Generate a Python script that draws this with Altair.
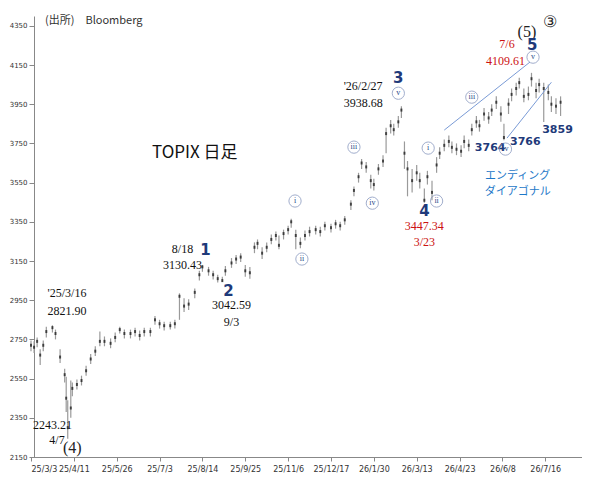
import altair as alt
import pandas as pd

day = [0,2,4,6,8,10,14,16,19,22,23,24,26,27,30,33,36,39,42,45,48,52,55,58,61,65,68,71,74,78,81,84,87,91,94,97,100,103,107,110,112,116,119,122,125,127,131,134,137,140,143,146,148,151,154,157,160,162,165,168,170,173,176,179,182,186,189,192,196,199,202,205,209,211,214,216,219,222,224,227,230,232,235,237,240,242,244,246,249,252,254,257,259,262,265,267,270,273,275,278,281,283,286,288,291,293,296,299,301,304,307,309,312,314,317,319,322,325,327,330,332,335,338,340,343,346]
close = [2720,2710,2740,2670,2720,2790,2810,2780,2660,2570,2450,2300,2400,2500,2520,2540,2590,2650,2690,2740,2740,2730,2760,2800,2780,2780,2790,2770,2790,2790,2850,2830,2820,2820,2830,2970,2920,2930,2990,3080,3120,3100,3080,3060,3050,3100,3140,3160,3170,3100,3090,3220,3240,3190,3220,3260,3280,3230,3290,3310,3350,3280,3240,3280,3300,3310,3300,3330,3320,3340,3330,3360,3440,3510,3580,3650,3630,3560,3540,3620,3660,3800,3840,3820,3860,3920,3700,3620,3560,3600,3560,3460,3580,3500,3640,3700,3740,3760,3730,3720,3710,3760,3740,3820,3860,3840,3900,3880,3920,3960,3900,3780,3950,4000,4030,4060,3990,4000,4080,4020,4050,4030,4010,3950,3940,3960]
high = [2745,2740,2760,2700,2745,2815,2822,2800,2700,2600,2560,2440,2540,2530,2545,2565,2615,2675,2715,2790,2765,2755,2785,2815,2800,2800,2810,2795,2810,2810,2870,2850,2840,2840,2850,2985,2960,2955,3010,3100,3130,3120,3100,3080,3070,3125,3165,3180,3190,3130,3120,3245,3260,3220,3245,3285,3300,3280,3310,3330,3365,3310,3270,3305,3325,3330,3325,3350,3340,3360,3350,3380,3460,3530,3600,3670,3655,3590,3570,3645,3690,3830,3870,3850,3890,3939,3760,3660,3620,3640,3600,3520,3610,3560,3680,3730,3770,3790,3760,3750,3740,3790,3770,3850,3890,3870,3930,3910,3950,3990,3940,3850,3980,4030,4060,4085,4030,4040,4110,4060,4080,4060,4050,3990,3980,3990]
low = [2690,2680,2710,2620,2690,2760,2785,2750,2630,2530,2380,2243,2350,2460,2495,2515,2565,2625,2665,2715,2715,2705,2735,2780,2755,2755,2765,2745,2765,2765,2825,2805,2795,2800,2805,2850,2890,2900,2960,3050,3095,3075,3055,3040,3043,3075,3115,3135,3145,3070,3060,3190,3210,3160,3195,3235,3255,3210,3260,3285,3320,3210,3215,3255,3275,3285,3275,3305,3295,3315,3305,3335,3410,3480,3550,3620,3600,3520,3510,3590,3630,3700,3800,3790,3830,3880,3620,3480,3500,3560,3520,3447,3540,3460,3600,3670,3710,3730,3700,3690,3680,3725,3710,3790,3830,3810,3865,3850,3890,3925,3860,3766,3900,3965,3995,4030,3960,3970,4040,3980,4010,3859,3970,3910,3900,3890]

tick_days = list(range(0, 337, 28))
tick_labels = ['25/3/3','25/4/11','25/5/26','25/7/3','25/8/14','25/9/25','25/11/6','25/12/17','26/1/30','26/3/13','26/4/23','26/6/8','26/7/16']

df = pd.DataFrame({'day': day, 'close': close, 'high': high, 'low': low})

lab_expr = "[" + ",".join("'%s'" % t for t in tick_labels) + "][round(datum.value/28)]"
X = alt.X('day:Q', scale=alt.Scale(domain=[0, 360], nice=False, zero=False),
          axis=alt.Axis(values=tick_days, labelExpr=lab_expr, title=None, grid=False,
                        labelFont='DejaVu Sans', labelFontSize=8, labelColor='#333',
                        domainColor='#888', tickColor='#888', tickSize=4, labelPadding=4))
Y = alt.Y('low:Q', scale=alt.Scale(domain=[2150, 4400], nice=False, zero=False),
          axis=alt.Axis(values=list(range(2150, 4351, 100)), format='d', title=None, grid=False,
                        labelFont='DejaVu Sans', labelFontSize=7, labelColor='#333',
                        domainColor='#888', tickColor='#888', tickSize=5, offset=-3,
                        labelPadding=2))

bars = alt.Chart(df).mark_rule(color='#9a9a9a', strokeWidth=1.2).encode(x=X, y=Y, y2='high:Q')
ticks = alt.Chart(df).mark_tick(color='#111', thickness=2, size=3).encode(x='day:Q', y='close:Q')

# trend lines of ending diagonal
tl = pd.DataFrame({'day': [270, 326, 311, 340], 'v': [3818, 4165, 3777, 4062], 'g': ['u', 'u', 'l', 'l']})
lines = alt.Chart(tl).mark_line(color='#7a9bd6', strokeWidth=1).encode(x='day:Q', y='v:Q', detail='g:N')

def texts(rows, color, size, font, weight='normal'):
    d = pd.DataFrame(rows, columns=['day', 'v', 't'])
    return alt.Chart(d).mark_text(color=color, fontSize=size, font=font, fontWeight=weight).encode(
        x='day:Q', y='v:Q', text='t:N')

serif = 'Liberation Serif'
black_txt = texts([(23.5, 2986, "'25/3/16"), (23.5, 2895, '2821.90'), (14, 2313, '2243.21'),
                   (17, 2237, '4/7'), (99, 3211, '8/18'), (99, 3129, '3130.43'),
                   (131, 2925, '3042.59'), (131, 2838, '9/3'), (217, 4042, "'26/2/27"),
                   (217, 3955, '3938.68')], '#111', 12, serif)
big_paren = texts([(27, 2196, '(4)'), (324, 4320, '(5)'), (339, 4368, '③')], '#222', 16, serif)
red_txt = texts([(257, 3328, '3447.34'), (257, 3246, '3/23'), (311, 4256, '7/6'), (310, 4170, '4109.61')],
                '#cc1111', 12, serif)
wave = texts([(114, 3206, '1'), (129, 2997, '2'), (240, 4082, '3'), (257, 3405, '4'), (327.5, 4250, '5')],
             '#1f3a7a', 15, 'DejaVu Sans', 'bold')
levels = texts([(300, 3726, '3764'), (323, 3757, '3766'), (344, 3818, '3859')], '#1f3a7a', 11,
               'DejaVu Sans', 'bold')
jp = texts([(318, 3583, 'エンディング'), (318, 3502, 'ダイアゴナル')], '#1e78c8', 11, 'Noto Sans CJK JP')
title = texts([(107, 3700, 'TOPIX 日足')], '#111', 17, 'Noto Sans CJK JP')

circ = pd.DataFrame([(172.5, 3456, 'i'), (177, 3160, 'ii'), (211, 3731, 'iii'), (223, 3445, 'iv'),
                     (240, 4006, 'v'), (259.5, 3726, 'i'), (265, 3456, 'ii'), (288, 3986, 'iii'),
                     (310, 3721, 'iv'), (328, 4190, 'v')], columns=['day', 'v', 't'])
circles = alt.Chart(circ).mark_point(shape='circle', size=150, color='#7a8cb8', strokeWidth=1,
                                     filled=False).encode(x='day:Q', y='v:Q')
circ_t = alt.Chart(circ).mark_text(color='#2a4a8a', fontSize=8, font=serif).encode(
    x='day:Q', y='v:Q', text='t:N')

src = alt.Chart(pd.DataFrame({'t': ['(出所)　Bloomberg']})).mark_text(
    align='left', fontSize=11, font='Noto Sans CJK JP', color='#333').encode(
    x=alt.value(14), y=alt.value(5), text='t:N')

chart = alt.layer(bars, ticks, lines, black_txt, big_paren, red_txt, wave, levels, jp, title,
                  circles, circ_t, src).properties(
    width=551, height=441, autosize=alt.AutoSizeParams(type='none'),
    padding={'left': 23, 'top': 8, 'right': 0, 'bottom': 20}
).configure_view(stroke=None)

chart.save('out.html', embed_options={'renderer': 'svg', 'actions': False})
